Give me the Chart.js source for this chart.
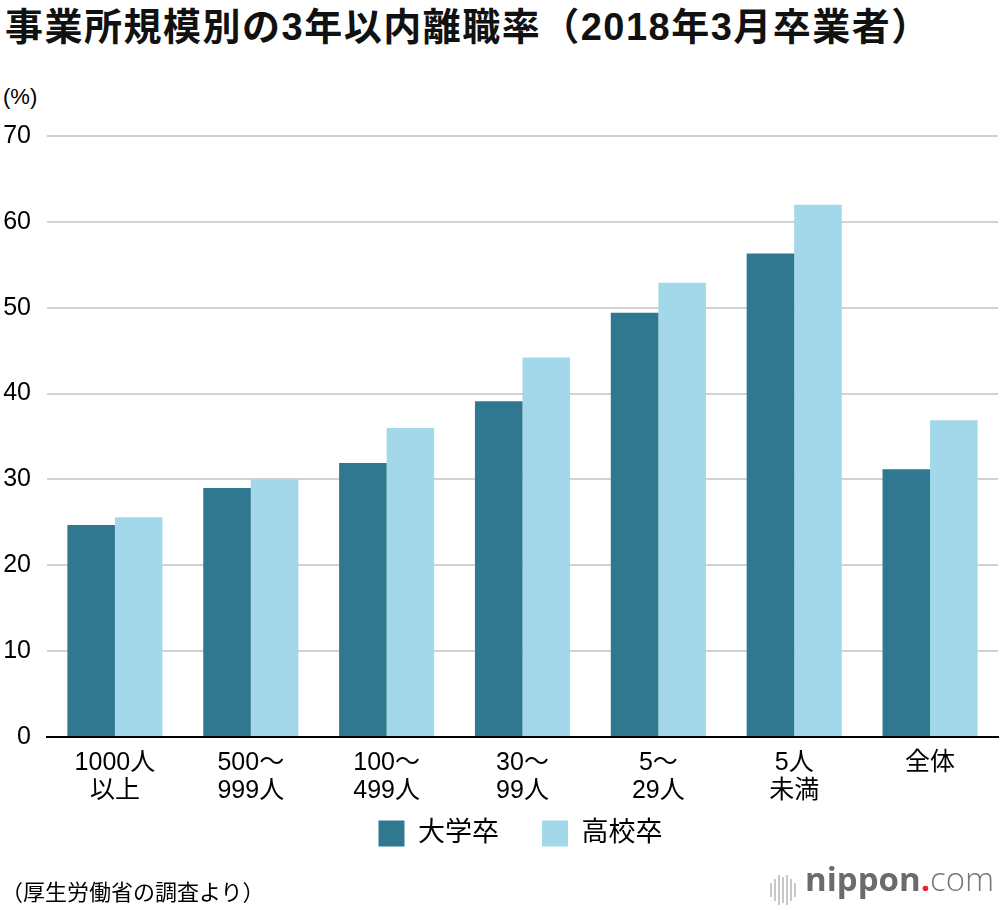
<!DOCTYPE html>
<html lang="ja">
<head>
<meta charset="utf-8">
<script src="https://cdn.jsdelivr.net/npm/chart.js@4.4.1/dist/chart.umd.min.js"></script>
<style>
  html, body { margin: 0; padding: 0; background: #fff; }
  body { width: 1000px; height: 910px; position: relative; overflow: hidden;
         font-family: "Liberation Sans", "Noto Sans CJK JP", sans-serif; color: #000; }
  #titulo { position: absolute; left: 5px; top: -4px; font-size: 38px; font-weight: bold; white-space: nowrap; letter-spacing: 1.5px; color: #111; }
  #unidad { position: absolute; left: 3px; top: 84px; font-size: 22px; }
  #fuente { position: absolute; left: 1px; top: 874px; font-size: 22px; }
  #logo { position: absolute; left: 770px; top: 862px; height: 46px; white-space: nowrap; }
  #logo .icono { position: absolute; left: 0; top: 13px; width: 26px; height: 30px; }
  #logo .icono span { position: absolute; width: 2px; background: #c8c8c8; }
  #logo .texto { position: absolute; left: 35px; top: -6px; font-family: "Open Sans", sans-serif; font-size: 33px; }
  #logo .nip { font-weight: bold; color: #6b6b6b; }
  #logo .dot { font-weight: bold; color: #e8202a; }
  #logo .com { font-weight: 300; color: #777; }
  #contenedorGrafico { position: absolute; left: 0; top: 0; width: 1000px; height: 910px; }
</style>
</head>
<body>
<div id="titulo">事業所規模別の3年以内離職率（2018年3月卒業者）</div>
<div id="unidad">(%)</div>
<div id="contenedorGrafico"><canvas id="graficoDesercion"></canvas></div>
<div id="fuente">（厚生労働省の調査より）</div>
<div id="logo">
  <div class="icono">
    <span style="left:0;top:8px;height:14px"></span>
    <span style="left:4px;top:4px;height:22px"></span>
    <span style="left:8px;top:0;height:30px"></span>
    <span style="left:12px;top:2px;height:26px"></span>
    <span style="left:16px;top:0;height:30px"></span>
    <span style="left:20px;top:4px;height:22px"></span>
    <span style="left:24px;top:8px;height:14px"></span>
  </div>
  <div class="texto"><span class="nip">nippon</span><span class="dot">.</span><span class="com">com</span></div>
</div>
<script>
// datos
const categorias = [["1000人", "以上"], ["500〜", "999人"], ["100〜", "499人"], ["30〜", "99人"], ["5〜", "29人"], ["5人", "未満"], ["全体"]];
const universitarios = [24.7, 29.0, 31.9, 39.1, 49.4, 56.3, 31.2];
const secundaria = [25.6, 30.0, 36.0, 44.2, 52.9, 62.0, 36.9];
const nombresSeries = ["大学卒", "高校卒"];
const marcasY = [0, 10, 20, 30, 40, 50, 60, 70];

const fuenteBase = "'Liberation Sans', 'Noto Sans CJK JP', sans-serif";

// mueve la leyenda a su sitio después del layout
const ajusteLeyenda = {
    id: 'ajusteLeyenda',
    afterLayout(chart) {
        const l = chart.legend;
        if (!l) return;
        l.left += 20; l.right += 20;
        l.top -= 32; l.bottom -= 32;
    }
};

const ctx = document.getElementById('graficoDesercion').getContext('2d');

new Chart(ctx, {
    type: 'bar',
    plugins: [ajusteLeyenda],
    data: {
        labels: categorias,
        datasets: [{
            label: nombresSeries[0],
            data: universitarios,
            backgroundColor: '#30788f',
            borderWidth: 0
        }, {
            label: nombresSeries[1],
            data: secundaria,
            backgroundColor: '#a2d8ea',
            borderWidth: 0
        }]
    },
    options: {
        responsive: true,
        maintainAspectRatio: false,
        animation: false,
        categoryPercentage: 0.7,
        barPercentage: 1.0,
        layout: {
            padding: { top: 136, right: 2, left: 3, bottom: 21 }
        },
        scales: {
            x: {
                grid: { display: false },
                border: { display: true, color: '#000', width: 2 },
                ticks: {
                    color: '#000',
                    font: { family: fuenteBase, size: 25, lineHeight: 1.12 },
                    padding: 4,
                    maxRotation: 0
                }
            },
            y: {
                min: 0,
                max: 70,
                afterBuildTicks: function (eje) {
                    eje.ticks = marcasY.map(v => ({ value: v }));
                },
                afterFit: function (eje) {
                    eje.width = 44; // ancho fijo del eje para que el área empiece en x=47
                },
                border: { display: false },
                grid: {
                    color: c => c.tick.value === 0 ? '#000' : '#d2d2d2',
                    lineWidth: 2,
                    drawTicks: false
                },
                ticks: {
                    color: '#000',
                    font: { family: fuenteBase, size: 25 },
                    padding: 16
                }
            }
        },
        plugins: {
            legend: {
                position: 'bottom',
                labels: {
                    color: '#000',
                    font: { family: fuenteBase, size: 27 },
                    boxWidth: 26,
                    boxHeight: 26,
                    padding: 43
                }
            },
            tooltip: { enabled: false }
        }
    }
});
</script>
</body>
</html>
